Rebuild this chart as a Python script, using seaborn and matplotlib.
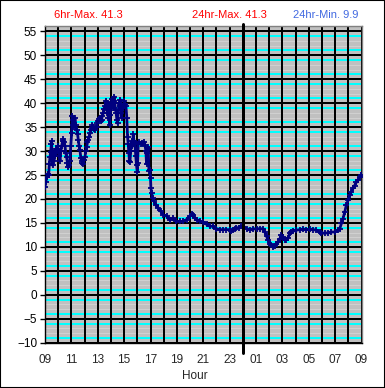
import matplotlib
matplotlib.use("Agg")
import matplotlib.pyplot as plt
from matplotlib.patches import Rectangle
import pandas as pd
import seaborn as sns

# hours since 09:00 and temperature readings
hours = [0.00, 0.05, 0.13, 0.23, 0.28, 0.33, 0.38, 0.43, 0.48, 0.50, 0.53, 0.58, 0.63, 0.68,
         0.73, 0.78, 0.83, 0.88, 0.95, 1.00, 1.07, 1.14, 1.20, 1.26, 1.33, 1.39, 1.45, 1.52,
         1.58, 1.64, 1.70, 1.77, 1.83, 1.89, 1.95, 2.02, 2.07, 2.11, 2.15, 2.20, 2.27, 2.33,
         2.40, 2.47, 2.53, 2.59, 2.65, 2.72, 2.78, 2.84, 2.90, 2.96, 3.03, 3.09, 3.16, 3.22,
         3.28, 3.35, 3.41, 3.47, 3.54, 3.60, 3.66, 3.72, 3.79, 3.85, 3.91, 3.97, 4.04, 4.10,
         4.17, 4.23, 4.29, 4.35, 4.42, 4.48, 4.55, 4.61, 4.67, 4.72, 4.75, 4.80, 4.85, 4.90,
         4.95, 5.00, 5.05, 5.10, 5.15, 5.20, 5.25, 5.30, 5.35, 5.40, 5.45, 5.50, 5.55, 5.60,
         5.66, 5.72, 5.78, 5.81, 5.87, 5.93, 6.01, 6.07, 6.14, 6.20, 6.26, 6.31, 6.36, 6.40,
         6.44, 6.50, 6.57, 6.63, 6.69, 6.75, 6.82, 6.88, 6.94, 7.00, 7.02, 7.07, 7.15, 7.25,
         7.32, 7.42, 7.50, 7.58, 7.65, 7.70, 7.76, 7.83, 7.88, 7.95, 8.00, 8.03, 8.08, 8.16,
         8.26, 8.41, 8.59, 8.76, 8.96, 9.22, 9.47, 9.72, 9.97, 10.23, 10.48, 10.73, 10.98,
         11.11, 11.24, 11.36, 11.54, 11.74, 11.99, 12.25, 12.50, 12.75, 13.00, 13.26, 13.50,
         13.76, 14.02, 14.14, 14.27, 14.39, 14.52, 14.72, 14.90, 15.03, 15.28, 15.53, 15.78,
         16.04, 16.29, 16.54, 16.67, 16.80, 16.92, 17.05, 17.17, 17.30, 17.42, 17.55, 17.68,
         17.80, 17.93, 18.05, 18.18, 18.31, 18.43, 18.56, 18.69, 18.81, 19.07, 19.32, 19.57,
         19.82, 20.08, 20.33, 20.58, 20.83, 20.96, 21.21, 21.46, 21.72, 21.97, 22.22, 22.35,
         22.48, 22.60, 22.73, 22.85, 22.98, 23.11, 23.23, 23.36, 23.48, 23.61, 23.73, 23.85,
         23.95]
temps = [22.6, 23.5, 24.5, 25.2, 25.0, 27.3, 28.8, 29.8, 31.5, 32.0, 29.5, 27.0, 29.0, 28.0,
         30.0, 29.0, 30.5, 30.0, 31.0, 30.5, 29.0, 28.0, 30.0, 31.0, 32.0, 32.5, 31.8, 31.0,
         29.5, 28.7, 27.5, 26.6, 27.0, 28.0, 31.0, 33.7, 37.3, 35.5, 36.5, 35.0, 36.8, 35.5,
         34.4, 33.5, 32.3, 31.0, 30.2, 28.5, 28.0, 27.5, 27.3, 28.2, 28.7, 30.0, 30.9, 31.8,
         32.3, 33.0, 33.7, 34.3, 34.8, 35.5, 35.1, 34.5, 34.4, 35.0, 35.1, 35.8, 36.2, 36.6,
         36.9, 36.2, 36.5, 37.4, 37.9, 38.8, 39.3, 40.5, 40.0, 38.0, 38.6, 37.0, 39.8, 35.4,
         37.5, 40.0, 39.4, 40.8, 39.0, 40.5, 41.3, 40.0, 38.5, 37.9, 36.5, 35.8, 38.0, 40.0,
         39.3, 40.7, 38.0, 37.0, 39.5, 39.0, 40.4, 39.8, 39.3, 37.0, 33.0, 31.5, 29.5, 28.0,
         27.7, 30.0, 32.0, 31.0, 33.5, 32.0, 31.7, 29.0, 27.0, 25.6, 27.5, 31.4, 31.8, 31.5,
         31.6, 31.5, 31.8, 31.3, 30.0, 27.3, 29.5, 30.8, 25.9, 26.0, 24.4, 22.3, 21.3, 20.2,
         19.5, 18.8, 18.1, 17.4, 16.7, 16.4, 15.7, 16.0, 15.3, 15.3, 15.3, 15.7, 16.4,
         16.9, 16.7, 16.0, 15.7, 15.3, 15.2, 14.7, 14.3, 14.3, 13.8, 13.6, 13.6,
         13.6, 13.6, 13.3, 13.6, 13.8, 14.0, 14.0, 14.3, 14.2, 13.8, 13.6, 13.75,
         13.75, 13.8, 13.75, 13.1, 12.2, 11.4, 10.7, 10.3, 9.9, 10.1, 10.6, 11.0,
         11.7, 12.4, 12.1, 11.5, 11.5, 11.9, 12.8, 13.1, 13.3, 13.5, 13.6, 13.7,
         13.6, 13.7, 13.6, 13.5, 13.1, 12.8, 12.9, 12.9, 13.1, 13.1, 13.5, 13.8,
         14.9, 15.9, 17.3, 18.7, 19.7, 20.8, 21.5, 22.2, 22.8, 23.5, 23.9, 24.5,
         25.0]

hour_labels = ['09', '', '11', '', '13', '', '15', '', '17', '', '19', '', '21', '', '23', '',
               '01', '', '03', '', '05', '', '07', '', '09']
y_ticks = list(range(-10, 60, 5))
minor_levels = [v for v in range(-9, 57) if v % 5 != 0]

df = pd.DataFrame({"hour": hours, "temp": temps})

sns.set_style("ticks")
plt.rcParams['font.family'] = ['Liberation Sans', 'DejaVu Sans']

fig = plt.figure(figsize=(3.85, 3.88), dpi=100)
ax = fig.add_axes([45 / 385, 1 - 342.7 / 388, 316.5 / 385, 316.7 / 388])
ax.set_facecolor('#C0C0C0')

# grid drawn by hand: grey/cyan minor lines every degree, black majors
for v in minor_levels:
    if v % 5 in (1, 4):
        ax.axhline(v, color='#00FFFF', lw=1.44, snap=True, zorder=1)
    else:
        ax.axhline(v, color='#D0D0D0', lw=0.72, snap=True, zorder=1)
for v in y_ticks:
    ax.axhline(v, color='black', lw=1.44, snap=True, zorder=1.5)
for h in range(25):
    ax.axvline(h, color='black', lw=1.44, snap=True, zorder=1.5)

sns.lineplot(data=df, x="hour", y="temp", ax=ax, color='#000080', lw=2.0,
             marker='+', markersize=5, markeredgewidth=1.3, markeredgecolor='#000080',
             zorder=3)

# midnight divider
ax.axvline(15, ymin=-0.033, ymax=1.007, color='black', lw=2.16, clip_on=False,
           snap=True, zorder=4)

ax.set_xlim(0, 24)
ax.set_ylim(-10, 56.1)
ax.set_xticks(range(25))
ax.set_xticklabels(hour_labels)
ax.set_yticks(y_ticks)
ax.tick_params(axis='y', length=3.6, width=1, pad=2, labelsize=8.5, colors='black')
ax.tick_params(axis='x', length=0, pad=8, labelsize=8.5)
ax.set_xlabel('Hour', fontsize=8.5)
ax.xaxis.set_label_coords((195 - 45) / 316.5, -0.085)
ax.set_ylabel('')

for side in ['left', 'bottom']:
    ax.spines[side].set_color('black')
    ax.spines[side].set_linewidth(1)
for side in ['top', 'right']:
    ax.spines[side].set_visible(True)
    ax.spines[side].set_color('#808080')
    ax.spines[side].set_linewidth(1)

fig.text(54 / 385, 1 - 15 / 388, '6hr-Max. 41.3', color='red', fontsize=8, va='center')
fig.text(192 / 385, 1 - 15 / 388, '24hr-Max. 41.3', color='red', fontsize=8, va='center')
fig.text(293 / 385, 1 - 15 / 388, '24hr-Min. 9.9', color='#4169E1', fontsize=8, va='center')

fig.add_artist(Rectangle((0, 0), 1, 1, transform=fig.transFigure, fill=False,
                         ec='black', lw=1.5))

fig.savefig('out.png', dpi=100)
